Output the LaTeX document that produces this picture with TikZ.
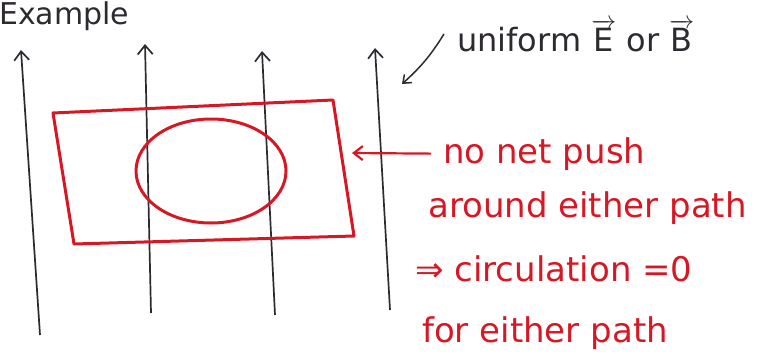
\documentclass[tikz,border=0pt]{standalone}
\usepackage{amsmath}
\usepackage{fontspec}
\setmainfont{DejaVu Sans}
\usetikzlibrary{arrows.meta,shapes.geometric}

\definecolor{inkred}{RGB}{214,24,36}
\definecolor{inkgray}{RGB}{45,42,48}

\begin{document}
\begin{tikzpicture}[x=1pt,y=-1pt]

\tikzset{
  field line/.style={
    draw=inkgray, line width=1.7pt,
    -{Straight Barb[length=9pt,width=15pt,line width=1.7pt]},
  },
  loop path/.style={
    draw=inkred, line width=3pt, line join=round,
  },
  note/.style={
    anchor=base west, inner sep=0pt,
    font=\fontsize{34}{40}\selectfont,
  },
}

\useasboundingbox (0,0) rectangle (768,361);

  % Field lines
  \coordinate (b1) at (40,335);
  \coordinate (t1) at (21,50);
  \coordinate (b2) at (151,313);
  \coordinate (t2) at (145,44);
  \coordinate (b3) at (275,315);
  \coordinate (t3) at (262,51);
  \coordinate (b4) at (390,310);
  \coordinate (t4) at (375,48);

  \draw[field line] (b1) -- (t1);
  \draw[field line] (b2) -- (t2);
  \draw[field line] (b3) -- (t3);
  \draw[field line] (b4) -- (t4);

  % Paths
  \coordinate (tl) at (53,113);
  \coordinate (tr) at (333,100);
  \coordinate (br) at (354,236);
  \coordinate (bl) at (74,244);
  \draw[loop path] (tl) -- (tr) -- (br) -- (bl) -- cycle;
  \node[loop path, ellipse, minimum width=150pt, minimum height=104pt,
    inner sep=0pt] (oval) at (211,171) {};

  % Labels
  \node[note, text=inkgray, font=\fontsize{30}{36}\selectfont]
    (ex) at (-1,25) {Example};
  \node[note, text=inkgray, font=\fontsize{32}{38}\selectfont] (unif) at (457,52)
    {uniform $\overrightarrow{\mbox{E}}$ or $\overrightarrow{\mbox{B}}$};

  \node[note, text=inkred] (push) at (443,163) {no net push};
  \node[note, text=inkred] (around) at (428,217) {around either path};
  \node[note, text=inkred] (circ) at (415,281) {⇒ circulation =0};
  \node[note, text=inkred] (for) at (422,342) {for either path};

  % Arrows
  \coordinate (fieldtip) at (402,84);
  \coordinate (looptip) at (352,153);
  \draw[inkgray, line width=1.5pt, -{Straight Barb[length=7pt,width=11pt]}]
    ([xshift=-13pt,yshift=2pt]unif.west) to[bend left=8] (fieldtip);
  \draw[inkred, line width=2.2pt, -{Straight Barb[length=9pt,width=14pt]}]
    ([xshift=-12pt]push.west) -- (looptip);
\end{tikzpicture}
\end{document}
